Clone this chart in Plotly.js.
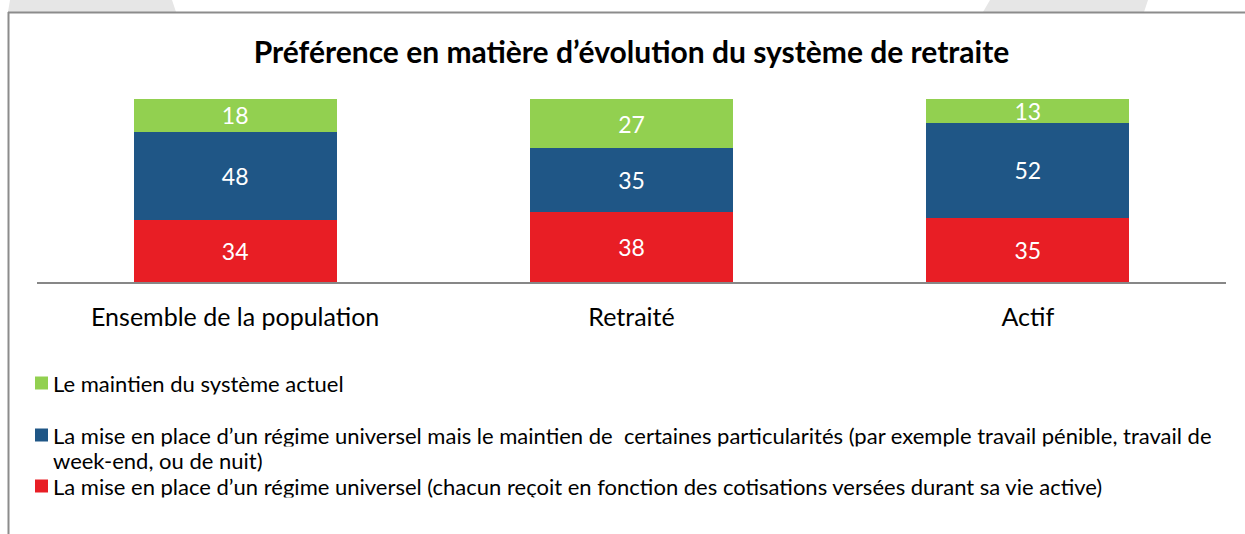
<!DOCTYPE html>
<html>
<head>
<meta charset="utf-8">
<script src="https://cdn.plot.ly/plotly-3.0.1.min.js"></script>
<style>html,body{margin:0;padding:0;background:#fff;}#chart{width:1245px;height:534px;}</style>
</head>
<body>
<div id="chart"></div>
<script>
const categories = ["Ensemble de la population", "Retraité", "Actif"];
// series listed bottom-to-top of the stack; legend lines in display order
const seriesNames = [
  "La mise en place d\u2019un régime universel (chacun reçoit en fonction des cotisations versées durant sa vie active)",
  "La mise en place d\u2019un régime universel mais le maintien de  certaines particularités (par exemple travail pénible, travail de week-end, ou de nuit)",
  "Le maintien du système actuel"
];
const legendLines = [
  ["La mise en place d\u2019un régime universel (chacun reçoit en fonction des cotisations versées durant sa vie active)"],
  ["La mise en place d\u2019un régime universel mais le maintien de  certaines particularités (par exemple travail pénible, travail de", "week-end, ou de nuit)"],
  ["Le maintien du système actuel"]
];
const regimeUniversel = [34, 38, 35];
const regimeAvecParticularites = [48, 35, 52];
const maintienActuel = [18, 27, 13];
const colors = ["#e81e25", "#1f5686", "#92d050"];
const titleText = "Préférence en matière d\u2019évolution du système de retraite";

const W = 1245, H = 534;
const L = 37, R = 19, T = 99, B = 252;
const pw = W - L - R, ph = H - T - B;
const px = x => (x - L) / pw;
const py = y => (H - B - y) / ph;

const FONT = "Lato, 'Open Sans', sans-serif";
const values = [regimeUniversel, regimeAvecParticularites, maintienActuel];
const traces = values.map((v, i) => ({
  type: "bar",
  x: categories,
  y: v,
  name: seriesNames[i],
  marker: {color: colors[i], line: {width: 0}},
  text: v.map(String),
  texttemplate: "%{text}",
  textposition: "inside",
  insidetextanchor: "middle",
  textangle: 0,
  constraintext: "none",
  textfont: {color: "#ffffff", size: 23, family: FONT},
  hoverinfo: "skip",
  showlegend: false
}));

// legend drawn as swatches + text lines (positions in pixels of the layout)
const legendSwatchY = [486, 435, 383];   // per series (bottom-to-top order)
const legendLineStep = 24.5;
const shapes = [];
const annotations = [];
values.forEach((v, i) => {
  const cy = legendSwatchY[i];
  shapes.push({type: "rect", xref: "paper", yref: "paper",
    x0: px(35), x1: px(48), y0: py(cy - 6.5), y1: py(cy + 6.5),
    fillcolor: colors[i], line: {width: 0}});
  legendLines[i].forEach((line, k) => {
    annotations.push({xref: "paper", yref: "paper", x: px(52), y: py(cy + 0.5 + k * legendLineStep),
      xanchor: "left", yanchor: "middle", showarrow: false, text: line,
      height: 22.5, valign: "middle", borderpad: 0,
      font: {family: FONT, size: 22, color: "#000000"}});
  });
});

const frameColor = "#8c8c8c";
shapes.push(
  {type: "path", xref: "paper", yref: "paper", layer: "below",
   path: `M ${px(10)} ${py(0)} L ${px(172)} ${py(0)} L ${px(176)} ${py(12)} L ${px(8)} ${py(12)} Z`,
   fillcolor: "#e6e6e6", line: {width: 0}},
  {type: "path", xref: "paper", yref: "paper", layer: "below",
   path: `M ${px(990)} ${py(0)} L ${px(1148)} ${py(0)} L ${px(1144)} ${py(12)} L ${px(983)} ${py(12)} Z`,
   fillcolor: "#e6e6e6", line: {width: 0}},
  {type: "line", xref: "paper", yref: "paper",
   x0: px(8), x1: px(1245), y0: py(12.5), y1: py(12.5),
   line: {color: frameColor, width: 2}},
  {type: "line", xref: "paper", yref: "paper",
   x0: px(8.5), x1: px(8.5), y0: py(12), y1: py(534),
   line: {color: frameColor, width: 2}}
);

const layout = {
  width: W, height: H,
  margin: {l: L, r: R, t: T, b: B, pad: 0},
  paper_bgcolor: "#ffffff",
  plot_bgcolor: "#ffffff",
  barmode: "stack",
  bargap: 0.487,
  font: {family: FONT, color: "#000000"},
  title: {
    text: "<b>" + titleText + "</b>",
    font: {family: FONT, size: 30, color: "#000000"},
    x: px(631.5), xref: "paper", xanchor: "center",
    y: 1 - 52 / H, yref: "container", yanchor: "middle"
  },
  xaxis: {
    type: "category",
    showline: true, linecolor: "#878787", linewidth: 2,
    showgrid: false, zeroline: false,
    ticks: "outside", ticklen: 12, tickcolor: "rgba(0,0,0,0)",
    tickfont: {family: FONT, size: 25, color: "#000000"},
    fixedrange: true
  },
  yaxis: {
    range: [0, 100], visible: false, showgrid: false, zeroline: false, fixedrange: true
  },
  showlegend: false,
  shapes: shapes,
  annotations: annotations
};

Plotly.newPlot("chart", traces, layout, {displayModeBar: false, staticPlot: true});
</script>
</body>
</html>
